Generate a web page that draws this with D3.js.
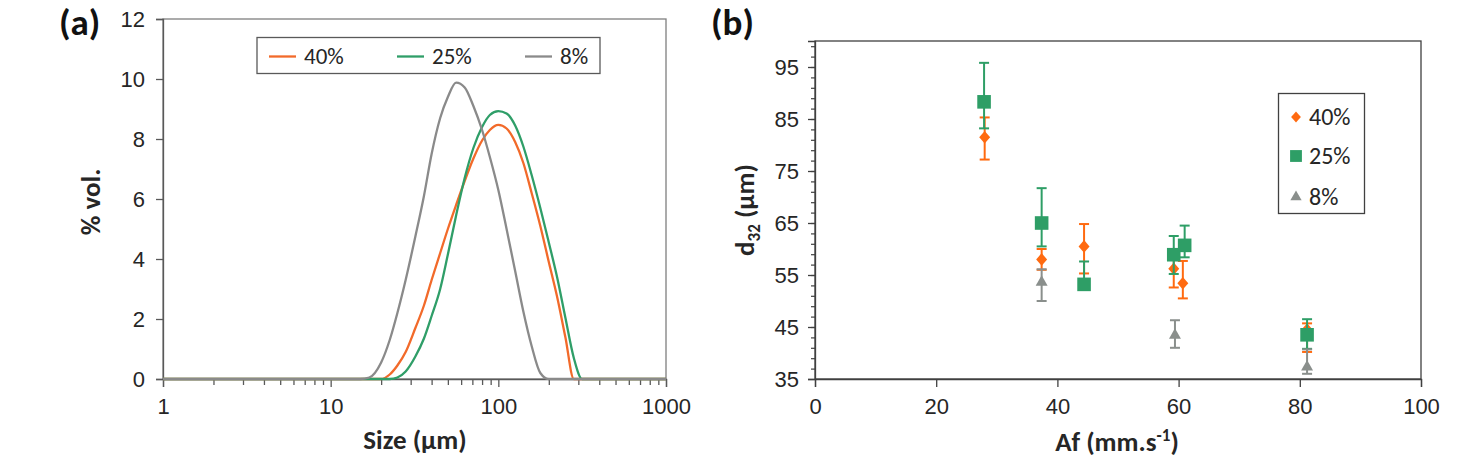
<!DOCTYPE html>
<html>
<head>
<meta charset="utf-8">
<script src="https://cdn.jsdelivr.net/npm/d3@7"></script>
<style>
  body { margin: 0; background: #fff; }
  svg { display: block; font-family: Carlito, Lato, sans-serif; }
</style>
</head>
<body>
<svg id="chart" width="1479" height="464"></svg>
<script>
// ---- panel (a): particle size distribution ----
var sizes = [1, 15, 17, 20, 22.5, 25, 28, 32, 36, 40, 45, 50, 56, 63, 71, 80, 89, 100, 112, 126, 141, 158, 178, 200, 224, 251, 282, 316, 1000]
var vol40 = [0, 0, 0, 0, 0.15, 0.45, 0.9, 1.7, 2.45, 3.3, 4.2, 5.0, 5.8, 6.6, 7.35, 7.95, 8.3, 8.47, 8.35, 7.9, 7.2, 6.2, 5.1, 3.9, 2.75, 1.4, 0, 0, 0]
var vol25 = [0, 0, 0, 0, 0, 0.05, 0.25, 0.75, 1.35, 2.1, 3.0, 4.15, 5.45, 6.7, 7.7, 8.4, 8.8, 8.93, 8.85, 8.45, 7.75, 6.8, 5.7, 4.55, 3.4, 2.05, 0.7, 0, 0]
var vol8 = [0, 0, 0.05, 0.55, 1.3, 2.2, 3.3, 4.75, 6.1, 7.5, 8.7, 9.4, 9.88, 9.72, 9.1, 8.3, 7.4, 6.3, 5.0, 3.6, 2.25, 1.1, 0.2, 0, 0, 0, 0, 0, 0]
var yTicksA = [0, 2, 4, 6, 8, 10, 12]
var xMajorA = [1, 10, 100, 1000]

// ---- panel (b): d32 vs Af ----
var af40 = [28.0, 37.4, 44.4, 59.2, 60.7, 81.2]
var d40 = [81.5, 58.0, 60.5, 56.2, 53.4, 44.5]
var up40 = [3.8, 2.0, 4.3, 3.5, 4.3, 1.2]
var dn40 = [4.3, 2.0, 5.2, 3.6, 2.9, 4.3]

var af25 = [27.9, 37.4, 44.4, 59.2, 61.0, 81.2]
var d25 = [88.3, 65.0, 53.2, 58.9, 60.7, 43.5]
var up25 = [7.5, 6.7, 4.4, 3.6, 3.8, 3.0]
var dn25 = [5.1, 4.5, 0.3, 3.7, 2.3, 2.7]

var af8 = [37.4, 59.4, 81.2]
var d8 = [53.8, 43.6, 37.5]
var up8 = [2.3, 2.7, 3.2]
var dn8 = [3.8, 2.6, 1.5]

var xTicksB = [0, 20, 40, 60, 80, 100]
var yTicksB = [35, 45, 55, 65, 75, 85, 95]

var labels = ["40%", "25%", "8%"]
var lineColors = ["#F26A2A", "#2F9E68", "#8A8A8A"]
var markColors = ["#FF6A10", "#2E9E66", "#8A8F8C"]
var axisColor = "#595959"
var textColor = "#262626"

var svg = d3.select("#chart")

// ================= panel (a) =================
var xA = d3.scaleLog().domain([1, 1000]).range([163, 666])
var yA = d3.scaleLinear().domain([0, 12]).range([379, 19])

var gA = svg.append("g")

gA.append("rect")
    .attr("x", 163).attr("y", 19)
    .attr("width", 666 - 163).attr("height", 379 - 19)
    .attr("fill", "none").attr("stroke", "#7f7f7f").attr("stroke-width", 1.3)

// minor x ticks
var minorA = []
;[1, 10, 100].forEach(function (dec) {
    for (var k = 2; k <= 9; k++) minorA.push(dec * k)
})
gA.append("g")
    .attr("transform", "translate(0,379)")
    .call(d3.axisBottom(xA).tickValues(minorA).tickSize(6).tickFormat(""))
    .call(g => g.select(".domain").remove())
    .selectAll("line").attr("stroke", axisColor).attr("stroke-width", 1.3)

gA.append("g")
    .attr("transform", "translate(0,379)")
    .call(d3.axisBottom(xA).tickValues(xMajorA).tickSize(8).tickPadding(11).tickFormat(d3.format("d")))
    .call(g => g.select(".domain").attr("stroke", axisColor).attr("stroke-width", 1.3))
    .call(g => g.selectAll("line").attr("stroke", axisColor).attr("stroke-width", 1.3))
    .selectAll("text")
    .attr("fill", textColor).style("font-size", "22px")

gA.append("g")
    .attr("transform", "translate(163,0)")
    .call(d3.axisLeft(yA).tickValues(yTicksA).tickSize(7).tickPadding(11))
    .call(g => g.select(".domain").attr("stroke", axisColor).attr("stroke-width", 1.3))
    .call(g => g.selectAll("line").attr("stroke", axisColor).attr("stroke-width", 1.3))
    .selectAll("text")
    .attr("fill", textColor).style("font-size", "22px")

var lineA = d3.line()
    .x((d, i) => xA(sizes[i]))
    .y(d => yA(d))
    .curve(d3.curveMonotoneX)

;[vol40, vol25, vol8].forEach(function (series, s) {
    gA.append("path")
        .datum(series)
        .attr("d", lineA)
        .attr("fill", "none")
        .attr("stroke", lineColors[s])
        .attr("stroke-width", 2.3)
})

// legend (a)
gA.append("rect")
    .attr("x", 257).attr("y", 37.5).attr("width", 343).attr("height", 36)
    .attr("fill", "#fff").attr("stroke", "#595959").attr("stroke-width", 1.3)
var legAx = [269, 397, 525]
labels.forEach(function (lab, i) {
    gA.append("line")
        .attr("x1", legAx[i]).attr("x2", legAx[i] + 27)
        .attr("y1", 56.5).attr("y2", 56.5)
        .attr("stroke", lineColors[i]).attr("stroke-width", 2.3)
    gA.append("text")
        .attr("x", legAx[i] + 35).attr("y", 64)
        .attr("fill", textColor).style("font-size", "23px")
        .text(lab)
})

gA.append("text")
    .attr("x", 415).attr("y", 449)
    .attr("text-anchor", "middle")
    .style("font-size", "27px").style("font-weight", "bold").attr("fill", textColor)
    .text("Size (µm)")

gA.append("text")
    .attr("transform", "translate(100,202) rotate(-90)")
    .attr("text-anchor", "middle")
    .style("font-size", "27px").style("font-weight", "bold").attr("fill", textColor)
    .text("% vol.")

svg.append("text")
    .attr("x", 59).attr("y", 35)
    .style("font-size", "37px").style("font-weight", "bold").attr("fill", "#111")
    .text("(a)")

// ================= panel (b) =================
var xB = d3.scaleLinear().domain([0, 100]).range([815, 1421])
var yB = d3.scaleLinear().domain([35, 100]).range([379, 41])

var gB = svg.append("g")

gB.append("rect")
    .attr("x", 815).attr("y", 41)
    .attr("width", 1421 - 815).attr("height", 379 - 41)
    .attr("fill", "none").attr("stroke", "#404040").attr("stroke-width", 1.3)

gB.append("g")
    .attr("transform", "translate(0,379)")
    .call(d3.axisBottom(xB).tickValues(xTicksB).tickSize(8).tickPadding(11))
    .call(g => g.select(".domain").attr("stroke", "#404040").attr("stroke-width", 1.3))
    .call(g => g.selectAll("line").attr("stroke", "#404040").attr("stroke-width", 1.3))
    .selectAll("text")
    .attr("fill", textColor).style("font-size", "22px")

var minorB = d3.range(37, 100, 2)
gB.append("g")
    .attr("transform", "translate(815,0)")
    .call(d3.axisLeft(yB).tickValues(minorB).tickSize(4).tickFormat(""))
    .call(g => g.select(".domain").remove())
    .selectAll("line").attr("stroke", "#404040").attr("stroke-width", 1.2)

gB.append("g")
    .attr("transform", "translate(815,0)")
    .call(d3.axisLeft(yB).tickValues(yTicksB).tickSize(7).tickPadding(9))
    .call(g => g.select(".domain").attr("stroke", "#404040").attr("stroke-width", 1.3))
    .call(g => g.selectAll("line").attr("stroke", "#404040").attr("stroke-width", 1.3))
    .selectAll("text")
    .attr("fill", textColor).style("font-size", "22px")

// diamond a bit taller than wide, like the spreadsheet marker
var diamond = {
    draw: function (context, size) {
        var w = Math.sqrt(size) / 2
        var h = w * 1.15
        context.moveTo(0, -h)
        context.lineTo(w, 0)
        context.lineTo(0, h)
        context.lineTo(-w, 0)
        context.closePath()
    }
}
var symbols = [
    d3.symbol().type(diamond).size(120),
    d3.symbol().type(d3.symbolSquare).size(185),
    d3.symbol().type(d3.symbolTriangle).size(62)
]

var seriesB = [
    { x: af40, y: d40, up: up40, dn: dn40 },
    { x: af25, y: d25, up: up25, dn: dn25 },
    { x: af8, y: d8, up: up8, dn: dn8 }
]

seriesB.forEach(function (s, k) {
    var pts = s.x.map((x, i) => ({ x: x, y: s.y[i], up: s.up[i], dn: s.dn[i] }))
    var g = gB.append("g")
    var bars = g.selectAll(".bar").data(pts).enter().append("g")
        .attr("stroke", markColors[k]).attr("stroke-width", 2)
    bars.append("line")
        .attr("x1", d => xB(d.x)).attr("x2", d => xB(d.x))
        .attr("y1", d => yB(d.y + d.up)).attr("y2", d => yB(d.y - d.dn))
    bars.append("line")
        .attr("x1", d => xB(d.x) - 5).attr("x2", d => xB(d.x) + 5)
        .attr("y1", d => yB(d.y + d.up)).attr("y2", d => yB(d.y + d.up))
    bars.append("line")
        .attr("x1", d => xB(d.x) - 5).attr("x2", d => xB(d.x) + 5)
        .attr("y1", d => yB(d.y - d.dn)).attr("y2", d => yB(d.y - d.dn))
    g.selectAll(".mk").data(pts).enter().append("path")
        .attr("d", symbols[k])
        .attr("transform", d => "translate(" + xB(d.x) + "," + (yB(d.y) + (k == 2 ? 1 : 0)) + ")")
        .attr("fill", markColors[k])
})

// legend (b)
gB.append("rect")
    .attr("x", 1278.5).attr("y", 93.5).attr("width", 86).attr("height", 120)
    .attr("fill", "#fff").attr("stroke", "#404040").attr("stroke-width", 1.3)
var legBy = [117, 156, 197]
var legSym = [
    d3.symbol().type(diamond).size(95),
    d3.symbol().type(d3.symbolSquare).size(140),
    d3.symbol().type(d3.symbolTriangle).size(55)
]
labels.forEach(function (lab, i) {
    gB.append("path")
        .attr("d", legSym[i])
        .attr("transform", "translate(1296," + legBy[i] + ")")
        .attr("fill", markColors[i])
    gB.append("text")
        .attr("x", 1309).attr("y", legBy[i] + 8)
        .attr("fill", textColor).style("font-size", "24px")
        .text(lab)
})

var xt = gB.append("text")
    .attr("x", 1117).attr("y", 451)
    .attr("text-anchor", "middle")
    .style("font-size", "27px").style("font-weight", "bold").attr("fill", textColor)
xt.append("tspan").text("Af (mm.s")
xt.append("tspan").attr("dy", -10).style("font-size", "17px").text("-1")
xt.append("tspan").attr("dy", 10).text(")")

var yt = gB.append("text")
    .attr("transform", "translate(754,210) rotate(-90)")
    .attr("text-anchor", "middle")
    .style("font-size", "27px").style("font-weight", "bold").attr("fill", textColor)
yt.append("tspan").text("d")
yt.append("tspan").attr("dy", 6).style("font-size", "17px").text("32")
yt.append("tspan").attr("dy", -6).text(" (µm)")

svg.append("text")
    .attr("x", 711).attr("y", 35)
    .style("font-size", "37px").style("font-weight", "bold").attr("fill", "#111")
    .text("(b)")
</script>
</body>
</html>
